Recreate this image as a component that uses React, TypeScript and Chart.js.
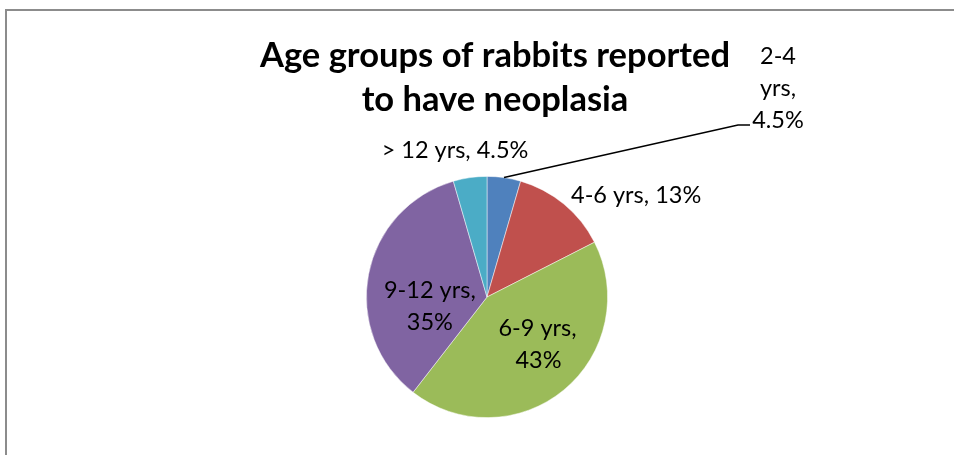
import React, { useEffect, useRef } from "react";
import { Chart, registerables } from "chart.js";

Chart.register(...registerables);

const titleLines = ["Age groups of rabbits reported", "to have neoplasia"];
const categories = ["2-4 yrs", "4-6 yrs", "6-9 yrs", "9-12 yrs", "> 12 yrs"];
const values = [4.5, 13, 43, 35, 4.5];
const valueLabels = ["4.5%", "13%", "43%", "35%", "4.5%"];
const colors = ["#4F81BD", "#C0504D", "#9BBB59", "#8064A2", "#4BACC6"];

const FONT = "Lato, 'Open Sans', sans-serif";

export default function App() {
  const ref = useRef<HTMLCanvasElement | null>(null);
  useEffect(() => {
    if (!ref.current) return;
    const labelPlugin = {
      id: "labels",
      afterDraw(chart: any) {
        const ctx = chart.ctx;
        const meta = chart.getDatasetMeta(0);
        const arcs = meta.data;
        const a0 = arcs[0];
        const cx = a0.x, cy = a0.y, r = a0.outerRadius;
        ctx.save();
        // title
        ctx.fillStyle = "#000";
        ctx.font = `bold 34.5px ${FONT}`;
        ctx.textAlign = "center";
        ctx.textBaseline = "middle";
        ctx.fillText(titleLines[0], cx + 8, 56);
        ctx.fillText(titleLines[1], cx + 8, 100);

        ctx.font = `23.5px ${FONT}`;
        const mid = (i: number) => (arcs[i].startAngle + arcs[i].endAngle) / 2;
        const pt = (i: number, f: number) => ({
          x: cx + Math.cos(mid(i)) * r * f,
          y: cy + Math.sin(mid(i)) * r * f,
        });
        // 2-4 yrs with leader line
        const e0 = pt(0, 1.0);
        const lx = cx + 251, ly = cy - 172;
        ctx.strokeStyle = "#000";
        ctx.lineWidth = 1.5;
        ctx.beginPath();
        ctx.moveTo(e0.x, e0.y);
        ctx.lineTo(lx, ly);
        ctx.lineTo(lx + 12, ly);
        ctx.stroke();
        const parts = categories[0].split(" ");
        ctx.fillText(parts[0], lx + 40, ly - 69);
        ctx.fillText(parts[1] + ",", lx + 40, ly - 37);
        ctx.fillText(valueLabels[0], lx + 40, ly - 5);

        // 4-6 yrs
        ctx.textAlign = "left";
        ctx.fillText(`${categories[1]}, ${valueLabels[1]}`, cx + 84, cy - 102);
        // > 12 yrs
        ctx.textAlign = "center";
        ctx.fillText(`${categories[4]}, ${valueLabels[4]}`, cx - 32, cy - 147);
        // 6-9 inside
        const p2 = pt(2, 0.5);
        ctx.fillText(`${categories[2]},`, p2.x + 12, cy + 31);
        ctx.fillText(valueLabels[2], p2.x + 13, cy + 63);
        // 9-12 inside
        const p3 = pt(3, 0.55);
        ctx.fillText(`${categories[3]},`, p3.x + 8, cy - 7);
        ctx.fillText(valueLabels[3], p3.x + 8, cy + 25);
        ctx.restore();
      },
    };
    const chart = new Chart(ref.current, {
      type: "pie",
      data: {
        labels: categories,
        datasets: [
          {
            data: values,
            backgroundColor: colors,
            borderColor: "rgba(255,255,255,0.6)",
            borderWidth: 0.8,
          },
        ],
      },
      options: {
        animation: false,
        responsive: false,
        devicePixelRatio: 1,
        layout: { padding: { top: 176, bottom: 37, left: 366, right: 346 } },
        plugins: {
          legend: { display: false },
          title: { display: false },
          tooltip: { enabled: false },
        },
      },
      plugins: [labelPlugin],
    });
    return () => chart.destroy();
  }, []);
  return (
    <div style={{ position: "fixed", left: 0, top: 0, width: 954, height: 455, background: "#fff", overflow: "hidden" }}>
      <div
        style={{
          position: "absolute",
          left: 5,
          top: 9,
          width: 1000,
          height: 500,
          border: "2px solid #8c8c8c",
          boxSizing: "border-box",
        }}
      />
      <canvas ref={ref} width={954} height={455} style={{ position: "absolute", left: 0, top: 0 }} />
    </div>
  );
}
